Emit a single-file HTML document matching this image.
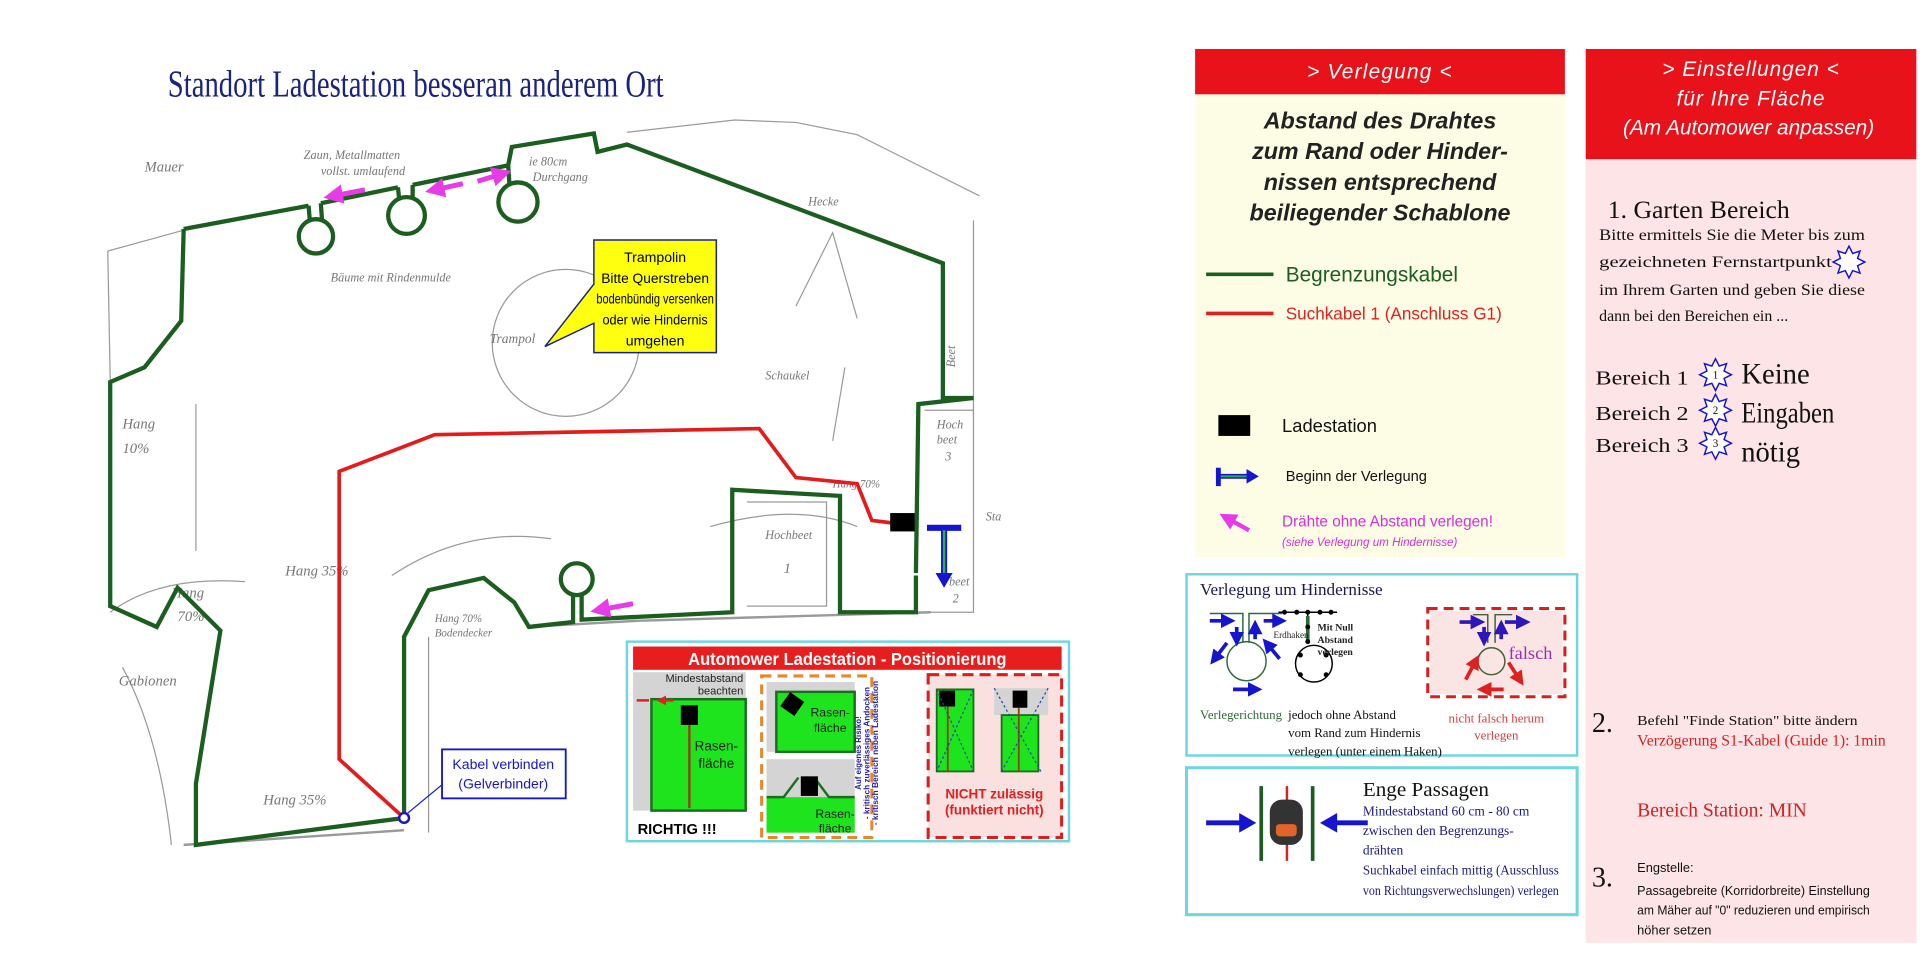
<!DOCTYPE html>
<html><head><meta charset="utf-8"><style>
html,body{margin:0;padding:0;background:#fff;overflow:hidden}
svg{display:block}
.s{font-family:"Liberation Serif",serif}
.a{font-family:"Liberation Sans",sans-serif}
</style></head><body>
<svg width="1920" height="960" viewBox="0 0 1568 784" preserveAspectRatio="none" xmlns="http://www.w3.org/2000/svg">
<defs>
<marker id="pk" markerWidth="4" markerHeight="4" refX="2" refY="2" orient="auto"><path d="M0,0L4,2L0,4z" fill="#e83be8"/></marker>
<marker id="bl" markerWidth="4" markerHeight="4" refX="2" refY="2" orient="auto"><path d="M0,0L4,2L0,4z" fill="#1515d0"/></marker>
<marker id="rd" markerWidth="4" markerHeight="4" refX="2" refY="2" orient="auto"><path d="M0,0L4,2L0,4z" fill="#e02020"/></marker>
</defs>
<rect width="1568" height="784" fill="#fff"/>
<text x="137" y="79" class="s" font-size="31" fill="#1a237e" textLength="405" lengthAdjust="spacingAndGlyphs">Standort Ladestation besseran anderem Ort</text>

<g fill="none" stroke="#9a9a9a" stroke-width="1">
<path d="M88,205 L150,188"/>
<path d="M88,205 L90,310"/>
<path d="M512,108 L600,98 L650,100 L700,110 L800,160"/>
<path d="M795,180 L795,340"/>
<circle cx="462" cy="280" r="60"/>
<path d="M755,335 L795,335 L795,500 L755,500"/>
<path d="M610,410 L675,410 L675,495 L610,495"/>
<path d="M430,512 L520,507 L760,500" stroke-width="2"/>
<path d="M150,690 L330,678" stroke-width="2"/>
<path d="M90,500 Q130,470 200,475"/>
<path d="M100,545 Q130,600 140,690"/>
<path d="M320,470 Q380,430 450,440"/>
<path d="M350,520 L350,680"/>
<path d="M580,430 Q650,410 700,430"/>
<path d="M650,250 L680,190 L700,260 M690,300 L680,360"/>
<path d="M160,450 L160,330"/>
</g>
<g class="s" font-size="12" fill="#777" font-style="italic">
<text x="118" y="140">Mauer</text>
<text x="248" y="130" font-size="10">Zaun, Metallmatten</text>
<text x="262" y="143" font-size="10">vollst. umlaufend</text>
<text x="432" y="135" font-size="10">ie 80cm</text>
<text x="435" y="148" font-size="10">Durchgang</text>
<text x="270" y="230" font-size="10">Bäume mit Rindenmulde</text>
<text x="400" y="280" font-size="11">Trampol</text>
<text x="625" y="310" font-size="10">Schaukel</text>
<text x="100" y="350">Hang</text><text x="100" y="370">10%</text>
<text x="233" y="470">Hang 35%</text>
<text x="140" y="488">Hang</text><text x="145" y="507">70%</text>
<text x="97" y="560">Gabionen</text>
<text x="355" y="508" font-size="9">Hang 70%</text>
<text x="355" y="520" font-size="9">Bodendecker</text>
<text x="625" y="440" font-size="10">Hochbeet</text>
<text x="640" y="468">1</text>
<text x="215" y="657">Hang 35%</text>
<text x="765" y="350" font-size="10">Hoch</text><text x="765" y="362" font-size="10">beet</text><text x="772" y="376" font-size="10">3</text>
<text x="770" y="290" font-size="10" transform="rotate(-90 780 290)">Beet</text>
<text x="660" y="168" font-size="10">Hecke</text>
<text x="805" y="425" font-size="10">Sta</text>
<text x="775" y="478" font-size="10">beet</text><text x="778" y="492" font-size="10">2</text>
<text x="680" y="398" font-size="9">Hang 70%</text>
</g>

<g fill="none" stroke="#1b5e20" stroke-width="3.5" stroke-linejoin="miter">
<path d="M150,187 L252,168 M262,166 L325,153 M337,151 L415,135 L418,120 L485,109 L488,124 L512,118 L770,215 L770,325 L795,325 M795,325 L750,330 L748,468"/>
<path d="M150,187 L148,262 L118,300 L90,312 L90,495 L128,512 L145,480 L180,515 L160,640 L160,690 L330,668 L330,520 L350,482 L395,472 L420,492 L432,512 L468,508 L468,485"/>
<path d="M475,485 L475,506 L598,500 L598,400 L686,405 L686,500 L748,500 L748,470"/>
<path d="M252,168 L253,180 M262,166 L263,180 M325,153 L326,163 M337,151 L337,162 M415,135 L416,150"/>
<circle cx="258" cy="193" r="14"/>
<circle cx="332" cy="176" r="15"/>
<circle cx="423" cy="165" r="16"/>
<circle cx="471" cy="473" r="13"/>
</g>
<path d="M330,668 L277,620 L277,385 L355,355 L620,350 L650,390 L700,395 L712,425 L737,428" fill="none" stroke="#e31b1b" stroke-width="3"/>
<g stroke="#e83be8" stroke-width="4" fill="none">
<path d="M298,155 L272,160" marker-end="url(#pk)"/>
<path d="M378,150 L355,155" marker-end="url(#pk)"/>
<path d="M390,148 L410,142" marker-end="url(#pk)"/>
<path d="M517,493 L490,498" marker-end="url(#pk)"/>
</g>
<rect x="727" y="419" width="20" height="15" fill="#000"/>
<path d="M757,431 L785,431 M771,431 L771,470" stroke="#1515d0" stroke-width="5" fill="none"/>
<path d="M771,433 L771,468" stroke="#2cb24a" stroke-width="2"/>
<path d="M764,468 L778,468 L771,480z" fill="#1515d0"/>
<circle cx="330" cy="668" r="4" fill="#fff" stroke="#1515d0" stroke-width="2"/>
<line x1="333" y1="664" x2="362" y2="640" stroke="#1515d0" stroke-width="1"/>
<rect x="361" y="612" width="101" height="40" fill="#fff" stroke="#1515d0" stroke-width="1.5"/>
<text x="411" y="628" class="a" font-size="11.5" fill="#1515d0" text-anchor="middle">Kabel verbinden</text>
<text x="411" y="644" class="a" font-size="11.5" fill="#1515d0" text-anchor="middle">(Gelverbinder)</text>

<path d="M485,196 L585,196 L585,288 L485,288 L485,264 L445,283 L485,232 Z" fill="#ffff10" stroke="#1a237e" stroke-width="1.2"/>
<g class="a" font-size="11.5" fill="#000" text-anchor="middle">
<text x="535" y="214">Trampolin</text><text x="535" y="231" textLength="88" lengthAdjust="spacingAndGlyphs">Bitte Querstreben</text>
<text x="535" y="248" textLength="96" lengthAdjust="spacingAndGlyphs">bodenbündig versenken</text><text x="535" y="265" textLength="86" lengthAdjust="spacingAndGlyphs">oder wie Hindernis</text><text x="535" y="282">umgehen</text>
</g>

<rect x="512" y="524" width="361" height="163" fill="#fff" stroke="#6fd6dc" stroke-width="2"/>
<rect x="517" y="528" width="350" height="19" fill="#e81e1e"/>
<text x="692" y="543" class="a" font-size="14" font-weight="bold" fill="#fff" text-anchor="middle" textLength="260" lengthAdjust="spacingAndGlyphs">Automower Ladestation - Positionierung</text>
<rect x="517" y="549" width="92" height="113" fill="#d4d4d4"/>
<rect x="532" y="571" width="77" height="91" fill="#1de41d" stroke="#1b6e20" stroke-width="2"/>
<text x="607" y="557" class="a" font-size="9" fill="#222" text-anchor="end">Mindestabstand</text>
<text x="607" y="567" class="a" font-size="9" fill="#222" text-anchor="end">beachten</text>
<path d="M520,572 L530,572 M550,572 L540,572" stroke="#e02020" stroke-width="2" marker-end="url(#rd)"/>
<rect x="556" y="576" width="14" height="16" fill="#000"/>
<path d="M563,592 L563,660" stroke="#8b4513" stroke-width="2"/>
<text x="585" y="613" class="a" font-size="11" fill="#222" text-anchor="middle">Rasen-</text>
<text x="585" y="627" class="a" font-size="11" fill="#222" text-anchor="middle">fläche</text>
<text x="553" y="681" class="a" font-size="12" font-weight="bold" fill="#000" text-anchor="middle">RICHTIG !!!</text>
<rect x="622" y="552" width="90" height="132" fill="#fff" stroke="#e8862a" stroke-width="2.5" stroke-dasharray="8,5"/>
<rect x="626" y="557" width="72" height="57" fill="#d4d4d4"/>
<rect x="634" y="565" width="64" height="49" fill="#1de41d" stroke="#1b6e20" stroke-width="2"/>
<rect x="640" y="568" width="14" height="14" fill="#000" transform="rotate(35 647 575)"/>
<text x="678" y="585" class="a" font-size="10" fill="#222" text-anchor="middle">Rasen-</text>
<text x="678" y="598" class="a" font-size="10" fill="#222" text-anchor="middle">fläche</text>
<rect x="626" y="620" width="72" height="60" fill="#d4d4d4"/>
<rect x="626" y="651" width="72" height="29" fill="#1de41d"/>
<path d="M626,651 L640,651 L652,635 M665,635 L677,651 L698,651" stroke="#1b6e20" stroke-width="2" fill="none"/>
<rect x="654" y="634" width="14" height="16" fill="#000"/>
<text x="682" y="668" class="a" font-size="10" fill="#222" text-anchor="middle">Rasen-</text>
<text x="682" y="680" class="a" font-size="10" fill="#222" text-anchor="middle">fläche</text>
<text transform="translate(712,615) rotate(-90)" class="a" font-size="6.5" font-weight="bold" fill="#2222aa" text-anchor="middle"><tspan x="0" y="-9">Auf eigenes Risiko!</tspan><tspan x="0" y="-2" textLength="108" lengthAdjust="spacingAndGlyphs">- kritisch zuverlässiges Andocken</tspan><tspan x="0" y="5" textLength="118" lengthAdjust="spacingAndGlyphs">- kritisch Bereich neben Ladestation</tspan></text>
<rect x="758" y="551" width="109" height="133" fill="#fbe0e0" stroke="#d42020" stroke-width="2.5" stroke-dasharray="9,5"/>
<rect x="765" y="563" width="30" height="67" fill="#1de41d" stroke="#1b6e20" stroke-width="1.5"/>
<rect x="767" y="564" width="13" height="13" fill="#000"/>
<rect x="812" y="562" width="44" height="22" fill="#d4d4d4"/>
<rect x="818" y="584" width="30" height="46" fill="#1de41d" stroke="#1b6e20" stroke-width="1.5"/>
<rect x="827" y="564" width="12" height="14" fill="#000"/>
<path d="M832,578 L832,630 M774,577 L774,630" stroke="#8b4513" stroke-width="1.5"/>
<path d="M765,563 L795,630 M795,563 L765,630 M812,562 L850,630 M856,562 L818,630" stroke="#2244aa" stroke-width="1" stroke-dasharray="2,2"/>
<text x="812" y="652" class="a" font-size="11" font-weight="bold" fill="#e02020" text-anchor="middle">NICHT zulässig</text>
<text x="812" y="665" class="a" font-size="11" font-weight="bold" fill="#e02020" text-anchor="middle">(funktiert nicht)</text>

<rect x="976" y="77" width="302" height="378" fill="#fdfde6"/>
<rect x="976" y="40" width="302" height="37" fill="#e8121a"/>
<text x="1127" y="64" class="a" font-size="17" font-style="italic" fill="#fff" text-anchor="middle" letter-spacing="1">&gt; Verlegung &lt;</text>
<g class="a" font-size="19" font-style="italic" font-weight="bold" fill="#222" text-anchor="middle">
<text x="1127" y="105">Abstand des Drahtes</text><text x="1127" y="130">zum Rand oder Hinder-</text>
<text x="1127" y="155">nissen entsprechend</text><text x="1127" y="180">beiliegender Schablone</text>
</g>
<line x1="985" y1="224" x2="1040" y2="224" stroke="#1b5e20" stroke-width="3"/>
<text x="1050" y="230" class="a" font-size="17" fill="#1b5e20">Begrenzungskabel</text>
<line x1="985" y1="256" x2="1040" y2="256" stroke="#e02020" stroke-width="3"/>
<text x="1050" y="261" class="a" font-size="14" fill="#e02020">Suchkabel 1 (Anschluss G1)</text>
<rect x="995" y="339" width="26" height="17" fill="#000"/>
<text x="1047" y="353" class="a" font-size="15" fill="#111">Ladestation</text>
<path d="M995,382 L995,397 M995,389 L1020,389" stroke="#1515d0" stroke-width="4"/>
<path d="M997,389 L1018,389" stroke="#2cb24a" stroke-width="1.5"/>
<path d="M1018,383 L1028,389 L1018,395z" fill="#1515d0"/>
<text x="1050" y="393" class="a" font-size="12" fill="#111">Beginn der Verlegung</text>
<path d="M1020,433 L1002,423" stroke="#e83be8" stroke-width="3.5" marker-end="url(#pk)"/>
<text x="1047" y="430" class="a" font-size="12.5" fill="#d62fd6">Drähte ohne Abstand verlegen!</text>
<text x="1047" y="446" class="a" font-size="9.5" font-style="italic" fill="#d62fd6">(siehe Verlegung um Hindernisse)</text>

<rect x="969" y="469" width="319" height="148" fill="#fff" stroke="#6fd6dc" stroke-width="2"/>
<text x="980" y="486" class="s" font-size="14" fill="#1a1a50">Verlegung um Hindernisse</text>
<g fill="none" stroke="#2d6a3a" stroke-width="1.2">
<path d="M988,501 L1015,501 L1015,525 M1020,525 L1020,501 L1047,501"/>
<circle cx="1018" cy="540" r="16"/>
<path d="M1044,500 L1092,500 M1068,500 L1068,525" stroke="#000"/>
<circle cx="1073" cy="542" r="15" stroke="#000"/>
<path d="M1203,502 L1215,502 L1215,525 M1221,525 L1221,502 L1235,502"/>
<circle cx="1218" cy="540" r="11"/>
</g>
<path d="M1068,503 L1068,524" stroke="#2d6a3a" stroke-width="3"/>
<g fill="#000"><circle cx="1049" cy="500" r="2"/><circle cx="1059" cy="500" r="2"/><circle cx="1068" cy="500" r="2"/><circle cx="1078" cy="500" r="2"/><circle cx="1087" cy="500" r="2"/><circle cx="1068" cy="512" r="2"/><circle cx="1068" cy="524" r="2"/><circle cx="1062" cy="535" r="2"/><circle cx="1083" cy="535" r="2"/><circle cx="1062" cy="551" r="2"/><circle cx="1083" cy="551" r="2"/></g>
<g stroke="#1515d0" stroke-width="3" fill="none" marker-end="url(#bl)">
<path d="M988,507 L1003,507"/><path d="M1032,507 L1045,507"/><path d="M1010,512 L1010,522"/><path d="M1025,522 L1025,512"/>
<path d="M1002,525 L992,538"/><path d="M1045,538 L1035,526"/><path d="M1007,563 L1025,563"/>
<path d="M1192,508 L1207,508"/><path d="M1229,508 L1244,508"/><path d="M1212,512 L1212,522"/><path d="M1226,522 L1226,512"/>
</g>
<g stroke="#e02020" stroke-width="3" fill="none" marker-end="url(#rd)"><path d="M1197,555 L1205,540"/><path d="M1232,541 L1241,555"/><path d="M1228,563 L1212,563"/></g>
<rect x="1166" y="497" width="112" height="72" fill="none" stroke="#d42020" stroke-width="2.5" stroke-dasharray="8,5"/>
<rect x="1168" y="499" width="108" height="68" fill="#e02020" opacity="0.12"/>
<text x="1232" y="538" class="s" font-size="15" fill="#9933aa">falsch</text>
<text x="1076" y="515" class="s" font-size="8" font-weight="bold" fill="#222">Mit Null</text>
<text x="1076" y="525" class="s" font-size="8" font-weight="bold" fill="#222">Abstand</text>
<text x="1076" y="535" class="s" font-size="8" font-weight="bold" fill="#222">verlegen</text>
<text x="1040" y="521" class="s" font-size="7.5" fill="#222">Erdhaken</text>
<text x="980" y="587" class="s" font-size="10.5" fill="#2d6a3a">Verlegerichtung</text>
<text x="1052" y="587" class="s" font-size="10.5" fill="#111">jedoch ohne Abstand</text>
<text x="1052" y="602" class="s" font-size="10.5" fill="#111">vom Rand zum Hindernis</text>
<text x="1052" y="617" class="s" font-size="10.5" fill="#111">verlegen (unter einem Haken)</text>
<text x="1222" y="590" class="s" font-size="10.5" fill="#d04040" text-anchor="middle">nicht falsch herum</text>
<text x="1222" y="604" class="s" font-size="10.5" fill="#d04040" text-anchor="middle">verlegen</text>

<rect x="969" y="627" width="319" height="120" fill="#fff" stroke="#6fd6dc" stroke-width="2.5"/>
<path d="M1030,642 L1030,703 M1072,642 L1072,703" stroke="#1b5e20" stroke-width="3"/>
<path d="M1051,642 L1051,703" stroke="#e02020" stroke-width="2"/>
<rect x="1037" y="653" width="27" height="37" rx="10" fill="#333"/>
<rect x="1042" y="673" width="17" height="10" rx="3" fill="#e0652a"/>
<path d="M985,672 L1014,672" stroke="#1515d0" stroke-width="4"/><path d="M1012,664 L1026,672 L1012,680z" fill="#1515d0"/>
<path d="M1117,672 L1090,672" stroke="#1515d0" stroke-width="4"/><path d="M1092,664 L1078,672 L1092,680z" fill="#1515d0"/>
<text x="1113" y="650" class="s" font-size="16" fill="#111" textLength="103" lengthAdjust="spacingAndGlyphs">Enge Passagen</text>
<g class="s" font-size="11" fill="#1a1a80">
<text x="1113" y="666" textLength="136" lengthAdjust="spacingAndGlyphs">Mindestabstand 60 cm - 80 cm</text><text x="1113" y="682">zwischen den Begrenzungs-</text>
<text x="1113" y="698">drähten</text><text x="1113" y="714" textLength="160" lengthAdjust="spacingAndGlyphs">Suchkabel einfach mittig (Ausschluss</text>
<text x="1113" y="731" textLength="160" lengthAdjust="spacingAndGlyphs">von Richtungsverwechslungen) verlegen</text>
</g>

<rect x="1295" y="130" width="270" height="640" fill="#fde4e6"/>
<rect x="1295" y="40" width="270" height="90" fill="#e8121a"/>
<g class="a" font-size="17" font-style="italic" fill="#fff" text-anchor="middle">
<text x="1430" y="62" letter-spacing="0.8">&gt; Einstellungen &lt;</text>
<text x="1430" y="86" letter-spacing="0.8">für Ihre Fläche</text>
<text x="1428" y="110">(Am Automower anpassen)</text>
</g>
<text x="1313" y="178" class="s" font-size="21" fill="#111">1. Garten Bereich</text>
<g class="s" font-size="13" fill="#111">
<text x="1306" y="196" textLength="217" lengthAdjust="spacingAndGlyphs">Bitte ermittels Sie die Meter bis zum</text>
<text x="1306" y="218" textLength="190" lengthAdjust="spacingAndGlyphs">gezeichneten Fernstartpunkt</text>
<text x="1306" y="241" textLength="217" lengthAdjust="spacingAndGlyphs">im Ihrem Garten und geben Sie diese</text>
<text x="1306" y="262">dann bei den Bereichen ein ...</text>
<text x="1303" y="314" font-size="16" textLength="76" lengthAdjust="spacingAndGlyphs">Bereich 1</text>
<text x="1303" y="343" font-size="16" textLength="76" lengthAdjust="spacingAndGlyphs">Bereich 2</text>
<text x="1303" y="369" font-size="16" textLength="76" lengthAdjust="spacingAndGlyphs">Bereich 3</text>
<text x="1422" y="313" font-size="24" textLength="56" lengthAdjust="spacingAndGlyphs">Keine</text>
<text x="1422" y="345" font-size="24" textLength="76" lengthAdjust="spacingAndGlyphs">Eingaben</text>
<text x="1422" y="377" font-size="24" textLength="48" lengthAdjust="spacingAndGlyphs">nötig</text>
</g>
<g fill="#fff" stroke="#1515d0" stroke-width="1.2">
<polygon transform="translate(-30,0)" points="1540,201 1543,207 1549,205 1547,211 1553,214 1547,217 1549,223 1543,221 1540,227 1537,221 1531,223 1533,217 1527,214 1533,211 1531,205 1537,207"/>
<polygon transform="translate(-139,92)" points="1540,201 1543,207 1549,205 1547,211 1553,214 1547,217 1549,223 1543,221 1540,227 1537,221 1531,223 1533,217 1527,214 1533,211 1531,205 1537,207"/>
<polygon transform="translate(-139,121)" points="1540,201 1543,207 1549,205 1547,211 1553,214 1547,217 1549,223 1543,221 1540,227 1537,221 1531,223 1533,217 1527,214 1533,211 1531,205 1537,207"/>
<polygon transform="translate(-139,148)" points="1540,201 1543,207 1549,205 1547,211 1553,214 1547,217 1549,223 1543,221 1540,227 1537,221 1531,223 1533,217 1527,214 1533,211 1531,205 1537,207"/>
</g>
<g class="s" font-size="9" fill="#111" text-anchor="middle"><text x="1401" y="309">1</text><text x="1401" y="338">2</text><text x="1401" y="365">3</text></g>
<text x="1300" y="598" class="s" font-size="23" fill="#111">2.</text>
<text x="1337" y="592" class="s" font-size="11.5" fill="#111" textLength="180" lengthAdjust="spacingAndGlyphs">Befehl "Finde Station" bitte ändern</text>
<text x="1337" y="609" class="s" font-size="12.5" fill="#d42020" textLength="203" lengthAdjust="spacingAndGlyphs">Verzögerung S1-Kabel (Guide 1): 1min</text>
<text x="1337" y="667" class="s" font-size="16" fill="#d42020">Bereich Station: MIN</text>
<text x="1300" y="724" class="s" font-size="23" fill="#111">3.</text>
<g class="a" font-size="10.5" fill="#111">
<text x="1337" y="712">Engstelle:</text>
<text x="1337" y="731" textLength="190" lengthAdjust="spacingAndGlyphs">Passagebreite (Korridorbreite) Einstellung</text>
<text x="1337" y="747" textLength="190" lengthAdjust="spacingAndGlyphs">am Mäher auf "0" reduzieren und empirisch</text>
<text x="1337" y="763">höher setzen</text>
</g>
</svg>
</body></html>
